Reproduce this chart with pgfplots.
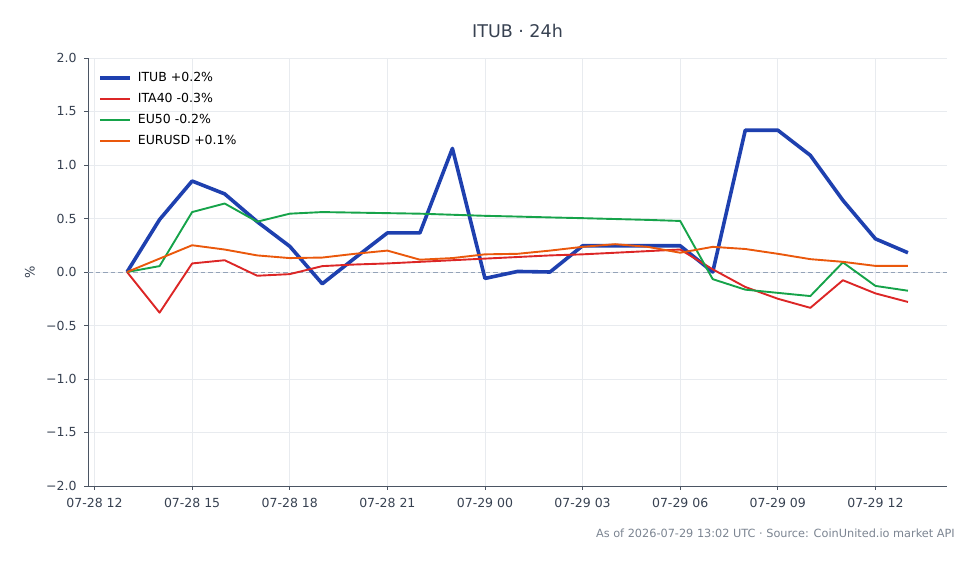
\documentclass[border=0pt]{standalone}
\usepackage{fontspec}
\setmainfont{DejaVu Sans}
\usepackage{pgfplots}
\pgfplotsset{compat=1.18}
\usepackage{pgfplotstable}

\definecolor{cItub}{HTML}{1E40AF}
\definecolor{cIta}{HTML}{DC2626}
\definecolor{cEu}{HTML}{16A34A}
\definecolor{cFx}{HTML}{EA580C}
\definecolor{inkdark}{HTML}{374151}
\definecolor{inkmid}{HTML}{4B5563}
\definecolor{inklight}{HTML}{7B8491}
\definecolor{gridc}{HTML}{E8EBEF}
\definecolor{zeroc}{HTML}{94A3B8}

% hour offset from 07-28 00:00 UTC, percent change since start
\pgfplotstableread{
h   itub    ita     eu      fx
13  0.000   0.000   0.000   0.000
14  0.490  -0.380   0.055   0.125
15  0.850   0.080   0.560   0.250
16  0.730   0.110   0.640   0.210
17  0.470  -0.035   0.470   0.155
18  0.240  -0.020   0.545   0.130
19 -0.110   0.055   0.560   0.135
20  0.130   0.070   0.555   0.170
21  0.365   0.080   0.550   0.200
22  0.365   0.095   0.545   0.115
23  1.155   0.110   0.535   0.130
24 -0.060   0.125   0.525   0.165
25  0.005   0.140   0.518   0.170
26  0.000   0.155   0.510   0.200
27  0.245   0.165   0.503   0.235
28  0.245   0.180   0.495   0.260
29  0.245   0.195   0.487   0.235
30  0.245   0.210   0.477   0.180
31  0.000   0.025  -0.067   0.235
32  1.325  -0.140  -0.165   0.215
33  1.325  -0.250  -0.195   0.170
34  1.090  -0.335  -0.225   0.120
35  0.670  -0.077   0.090   0.095
36  0.310  -0.200  -0.130   0.057
37  0.180  -0.280  -0.175   0.057
}\series

\begin{document}
\begin{tikzpicture}[x=1pt,y=1pt]
\path[use as bounding box] (0,0) rectangle (979,564);
\begin{axis}[
  at={(88pt,78pt)}, anchor=south west,
  scale only axis, width=859pt, height=428pt,
  xmin=11.8, xmax=38.2, ymin=-2, ymax=2,
  axis x line*=bottom, axis y line*=left,
  axis line style={inkmid, line width=0.9pt},
  xtick={12,15,18,21,24,27,30,33,36},
  xticklabels={07-28 12,07-28 15,07-28 18,07-28 21,07-29 00,07-29 03,07-29 06,07-29 09,07-29 12},
  ytick={-2,-1.5,-1,-0.5,0,0.5,1,1.5,2},
  yticklabels={−2.0,−1.5,−1.0,−0.5,0.0,0.5,1.0,1.5,2.0},
  tick align=outside, major tick length=4pt,
  tick style={inkmid, line width=0.9pt},
  ticklabel style={font=\fontsize{12.5}{15}\selectfont, text=inkdark},
  xticklabel style={yshift=-5pt},
  yticklabel style={xshift=-4pt},
  grid=major, major grid style={gridc, line width=0.7pt},
  ylabel={\%},
  ylabel style={font=\fontsize{13}{15}\selectfont, text=inkdark,
    at={(axis description cs:-0.0676,0.5)}, anchor=center, rotate=0},
  legend cell align=left,
  legend style={draw=none, fill=none, at={(0.0117,0.978)}, anchor=north west,
    font=\fontsize{12.5}{21}\selectfont, text=black,
    nodes={text height=11.5pt, text depth=5.5pt},
    row sep=0pt, inner sep=0pt,
    /tikz/every odd column/.append style={column sep=4pt}},
  legend image code/.code={\draw[#1] (0pt,0pt) -- (30pt,0pt);},
  clip=false,
]
\draw[zeroc, dashed, dash pattern=on 4.5pt off 3pt, line width=0.9pt]
  (axis cs:11.8,0) -- (axis cs:38.2,0);
\addplot[cItub, line width=3.6pt, line join=round] table[x=h, y=itub] {\series};
\addlegendentry{ITUB +0.2\%}
\addplot[cIta, line width=1.9pt, line join=round] table[x=h, y=ita] {\series};
\addlegendentry{ITA40 -0.3\%}
\addplot[cEu, line width=1.9pt, line join=round] table[x=h, y=eu] {\series};
\addlegendentry{EU50 -0.2\%}
\addplot[cFx, line width=1.9pt, line join=round] table[x=h, y=fx] {\series};
\addlegendentry{EURUSD +0.1\%}
\end{axis}
\node[text=inkdark, font=\fontsize{17.5}{20}\selectfont] at (517.5,533) {ITUB · 24h};
\node[text=inklight, font=\fontsize{11.3}{13}\selectfont, anchor=east, inner sep=0pt] at (955,31) {As of 2026-07-29 13:02 UTC · Source: CoinUnited.io market API};
\end{tikzpicture}
\end{document}
